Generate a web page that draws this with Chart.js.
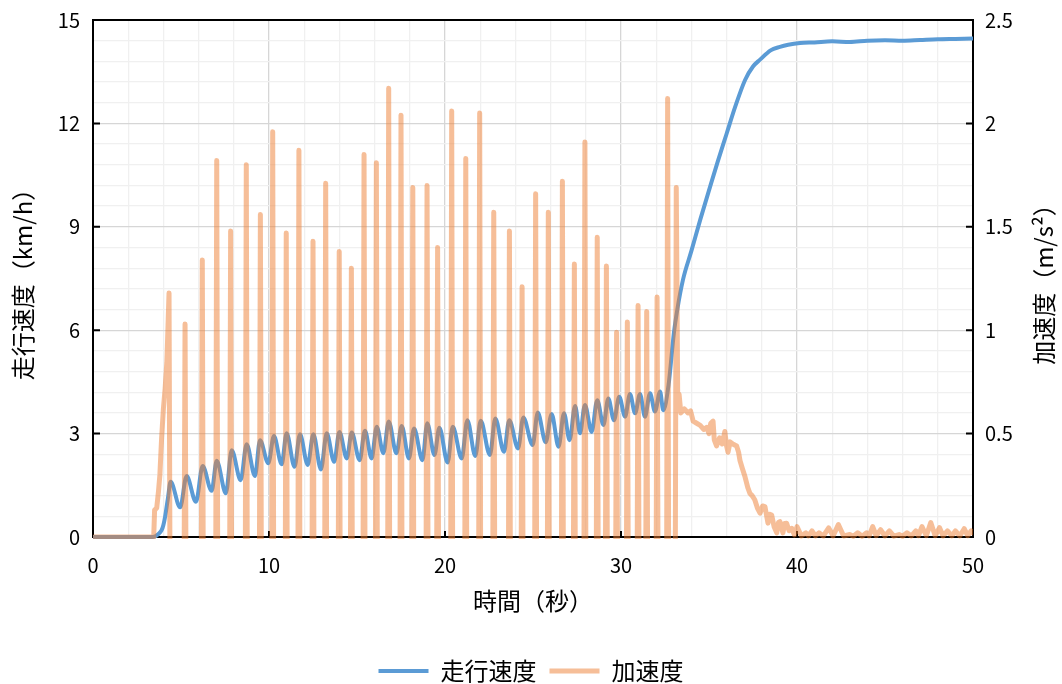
<!DOCTYPE html>
<html>
<head>
<meta charset="utf-8">
<script src="https://cdn.jsdelivr.net/npm/chart.js@4.4.1/dist/chart.umd.min.js"></script>
<style>
html,body{margin:0;padding:0;background:#fff;}
#wrap{width:1062px;height:684px;position:relative;}
</style>
</head>
<body>
<div id="wrap"><canvas id="c" width="1062" height="684"></canvas></div>
<script>
// ---- data (time in s) ----
const seriesNames = ['走行速度', '加速度'];
const xTitle = '時間（秒）';
const yTitle = '走行速度（km/h）';
const y2Title = '加速度（m/s²）';

// speed [time, km/h]
const speedSeries = [
  [0,0],[3.4,0],[3.7,0.08],[3.9,0.2],[4.0,0.35],[4.1,0.6],[4.25,1.1],
  [4.41,1.60],[4.95,0.86],[5.32,1.77],[5.85,1.02],[6.23,2.06],[6.74,1.34],
  [7.03,2.21],[7.55,1.27],[7.88,2.52],[8.39,1.65],[8.73,2.69],[9.20,1.77],
  [9.49,2.81],[9.96,2.14],[10.28,2.93],[10.72,2.11],[11.00,3.01],[11.45,2.04],
  [11.76,2.98],[12.20,2.09],[12.52,2.98],[12.95,1.96],[13.28,3.01],[13.70,2.18],
  [14.00,3.05],[14.42,2.28],[14.70,3.03],[15.15,2.23],[15.45,3.08],[15.83,2.28],
  [16.12,3.20],[16.50,2.43],[16.80,3.35],[17.24,2.43],[17.54,3.22],[17.95,2.28],
  [18.24,3.15],[18.72,2.23],[18.99,3.30],[19.40,2.38],[19.68,3.17],[20.15,2.16],
  [20.44,3.20],[20.95,2.28],[21.27,3.39],[21.72,2.35],[22.03,3.37],[22.55,2.38],
  [22.86,3.44],[23.35,2.47],[23.65,3.39],[24.15,2.57],[24.45,3.47],[24.98,2.67],
  [25.27,3.61],[25.72,2.75],[26.06,3.57],[26.45,2.62],[26.76,3.59],[27.08,2.81],
  [27.39,3.80],[27.67,3.01],[27.95,3.83],[28.33,3.05],[28.65,3.97],[29.00,3.25],
  [29.28,4.02],[29.60,3.39],[29.90,4.07],[30.23,3.49],[30.51,4.15],[30.80,3.59],
  [31.08,4.15],[31.36,3.49],[31.65,4.17],[31.93,3.64],[32.22,4.22],[32.40,3.68],
  [32.70,4.4],[33.00,5.9],[33.20,6.6],[33.52,7.46],[34.00,8.3],[34.50,9.2],
  [35.06,10.16],[35.50,10.9],[36.00,11.7],[36.50,12.5],[37.05,13.26],[37.50,13.65],
  [37.90,13.85],[38.50,14.12],[39.03,14.22],[39.50,14.28],[40.17,14.33],[41.0,14.35],
  [42.0,14.38],[43.0,14.36],[44.0,14.40],[45.0,14.41],[46.0,14.40],[47.0,14.42],
  [48.0,14.44],[49.0,14.45],[50.0,14.46]
];

// acceleration [time, m/s^2]  (values below 0 fall outside the plot)
const accelSeries = [
  [0,0],[3.45,0],[3.5,0.13],[3.62,0.14],[3.72,0.22],[3.8,0.3],[3.9,0.48],[4.0,0.62],
  [4.1,0.72],[4.2,0.85],[4.32,1.18],[4.38,-0.3],
  [5.17,-0.3],[5.23,1.03],[5.29,-0.3],
  [6.15,-0.3],[6.21,1.34],[6.27,-0.3],
  [6.97,-0.3],[7.03,1.82],[7.09,-0.3],
  [7.76,-0.3],[7.82,1.48],[7.88,-0.3],
  [8.65,-0.3],[8.71,1.80],[8.77,-0.3],
  [9.45,-0.3],[9.51,1.56],[9.57,-0.3],
  [10.15,-0.3],[10.21,1.96],[10.27,-0.3],
  [10.92,-0.3],[10.98,1.47],[11.04,-0.3],
  [11.64,-0.3],[11.70,1.87],[11.76,-0.3],
  [12.44,-0.3],[12.50,1.43],[12.56,-0.3],
  [13.16,-0.3],[13.22,1.71],[13.28,-0.3],
  [13.93,-0.3],[13.99,1.38],[14.05,-0.3],
  [14.62,-0.3],[14.68,1.30],[14.74,-0.3],
  [15.34,-0.3],[15.40,1.85],[15.46,-0.3],
  [16.04,-0.3],[16.10,1.81],[16.16,-0.3],
  [16.74,-0.3],[16.80,2.17],[16.86,-0.3],
  [17.44,-0.3],[17.50,2.04],[17.56,-0.3],
  [18.11,-0.3],[18.17,1.69],[18.23,-0.3],
  [18.92,-0.3],[18.98,1.70],[19.04,-0.3],
  [19.52,-0.3],[19.58,1.40],[19.64,-0.3],
  [20.32,-0.3],[20.38,2.06],[20.44,-0.3],
  [21.12,-0.3],[21.18,1.83],[21.24,-0.3],
  [21.91,-0.3],[21.97,2.05],[22.03,-0.3],
  [22.71,-0.3],[22.77,1.57],[22.83,-0.3],
  [23.60,-0.3],[23.66,1.48],[23.72,-0.3],
  [24.32,-0.3],[24.38,1.21],[24.44,-0.3],
  [25.09,-0.3],[25.15,1.66],[25.21,-0.3],
  [25.81,-0.3],[25.87,1.57],[25.93,-0.3],
  [26.61,-0.3],[26.67,1.72],[26.73,-0.3],
  [27.29,-0.3],[27.35,1.32],[27.41,-0.3],
  [27.89,-0.3],[27.95,1.91],[28.01,-0.3],
  [28.59,-0.3],[28.65,1.45],[28.71,-0.3],
  [29.11,-0.3],[29.17,1.31],[29.23,-0.3],
  [29.69,-0.3],[29.75,0.99],[29.81,-0.3],
  [30.30,-0.3],[30.36,1.04],[30.42,-0.3],
  [30.91,-0.3],[30.97,1.12],[31.03,-0.3],
  [31.40,-0.3],[31.46,1.09],[31.52,-0.3],
  [31.99,-0.3],[32.05,1.16],[32.11,-0.3],
  [32.59,-0.3],[32.65,2.12],[32.71,-0.3],
  [33.08,-0.3],[33.14,1.69],[33.22,0.69],
  [33.30,0.69],[33.40,0.60],[33.6,0.62],[33.8,0.60],[33.95,0.61],[34.1,0.56],
  [34.3,0.55],[34.5,0.54],[34.7,0.52],[34.87,0.53],[35.0,0.50],[35.1,0.55],
  [35.23,0.56],[35.3,0.47],[35.43,0.44],[35.6,0.48],[35.75,0.45],[35.9,0.51],
  [36.0,0.44],[36.08,0.41],[36.2,0.46],[36.35,0.45],[36.57,0.44],[36.68,0.41],
  [36.76,0.37],[36.9,0.33],[37.05,0.29],[37.2,0.24],[37.33,0.21],[37.45,0.20],
  [37.6,0.18],[37.75,0.14],[37.9,0.115],[38.05,0.15],[38.18,0.147],[38.35,0.067],
  [38.45,0.11],[38.56,0.106],[38.7,0.05],[38.85,0.02],[38.95,0.07],[39.03,0.074],
  [39.2,0.02],[39.3,0.065],[39.41,0.066],[39.55,0.03],[39.7,0.042],[39.85,0.01],
  [40.0,0.05],[40.25,0.005],[40.5,0.02],[40.65,0.005],[40.85,0.03],[41.05,0.005],
  [41.25,0.02],[41.5,0.005],[41.8,0.044],[42.05,0.005],[42.35,0.06],[42.65,0.005],
  [43.0,0.012],[43.2,0.004],[43.45,0.02],[43.7,0.004],[43.95,0.02],[44.1,0.005],
  [44.3,0.05],[44.5,0.006],[44.75,0.035],[45.0,0.005],[45.25,0.03],[45.5,0.004],
  [45.8,0.012],[46.0,0.004],[46.25,0.02],[46.5,0.005],[46.75,0.03],[46.9,0.006],
  [47.1,0.05],[47.35,0.006],[47.6,0.07],[47.85,0.006],[48.1,0.045],[48.3,0.005],
  [48.55,0.03],[48.8,0.005],[49.0,0.03],[49.25,0.005],[49.5,0.04],[49.7,0.006],
  [49.9,0.03],[50.0,0.02]
];

// axis ticks
const xMax = 50, xMinorStep = 2, xMajorStep = 10;
const yMax = 15, yMinorStep = 0.6, yMajorStep = 3;
const y2Max = 2.5, y2Step = 0.5;

const FONT = "'Noto Sans CJK JP','Noto Sans',sans-serif";
const TITLE_SIZE = 24, TICK_SIZE = 20;
const isMult = (v, m) => Math.abs(v / m - Math.round(v / m)) < 1e-6;

const framePlugin = {
  id: 'frame',
  beforeDatasetsDraw(chart) {
    const {ctx, chartArea: a, scales} = chart;
    ctx.save();
    ctx.strokeStyle = '#000';
    ctx.lineWidth = 2;
    ctx.strokeRect(a.left, a.top, a.right - a.left, a.bottom - a.top);
    ctx.beginPath();
    for (let v = xMajorStep; v < xMax; v += xMajorStep) {
      const x = scales.x.getPixelForValue(v);
      ctx.moveTo(x, a.bottom); ctx.lineTo(x, a.bottom - 6);
    }
    for (let v = yMajorStep; v < yMax; v += yMajorStep) {
      const y = scales.y.getPixelForValue(v);
      ctx.moveTo(a.left, y); ctx.lineTo(a.left + 7, y);
    }
    for (let v = y2Step; v < y2Max - 1e-9; v += y2Step) {
      const y = scales.y1.getPixelForValue(v);
      ctx.moveTo(a.right, y); ctx.lineTo(a.right - 7, y);
    }
    ctx.stroke();
    ctx.restore();
  },
  afterDraw(chart) {
    const {ctx, chartArea: a} = chart;
    ctx.save();
    ctx.fillStyle = '#000';
    ctx.font = TITLE_SIZE + 'px ' + FONT;
    ctx.textAlign = 'center';
    ctx.textBaseline = 'middle';
    ctx.translate(1044, (a.top + a.bottom) / 2);
    ctx.rotate(-Math.PI / 2);
    ctx.fillText(y2Title, 0, 0);
    ctx.restore();
  }
};

new Chart(document.getElementById('c'), {
  type: 'line',
  data: {
    datasets: [
      {
        label: seriesNames[0],
        data: speedSeries.map(p => ({x: p[0], y: p[1]})),
        yAxisID: 'y',
        borderColor: '#5B9BD5',
        backgroundColor: '#5B9BD5',
        borderWidth: 4,
        pointRadius: 0,
        cubicInterpolationMode: 'monotone',
        borderJoinStyle: 'round',
        borderCapStyle: 'round',
        clip: {left: 0, top: 0, right: 0, bottom: 2},
        order: 2
      },
      {
        label: seriesNames[1],
        data: accelSeries.map(p => ({x: p[0], y: p[1]})),
        yAxisID: 'y1',
        borderColor: 'rgba(237,125,49,0.5)',
        backgroundColor: 'rgba(237,125,49,0.5)',
        borderWidth: 5,
        pointRadius: 0,
        tension: 0,
        borderJoinStyle: 'round',
        borderCapStyle: 'round',
        clip: {left: 0, top: 0, right: 0, bottom: 2},
        order: 1
      }
    ]
  },
  options: {
    responsive: false,
    animation: false,
    layout: {padding: {top: 20, left: 0, right: 0, bottom: 0}},
    plugins: {
      tooltip: {enabled: false},
      legend: {
        position: 'bottom',
        maxHeight: 38,
        labels: {
          usePointStyle: true,
          pointStyle: 'line',
          pointStyleWidth: 50,
          padding: 13,
          color: '#000',
          font: {family: FONT, size: TITLE_SIZE},
          sort: (a, b) => a.datasetIndex - b.datasetIndex
        }
      }
    },
    scales: {
      x: {
        type: 'linear',
        min: 0, max: xMax,
        afterFit: s => { s.height = 109; },
        border: {display: false},
        grid: {
          drawTicks: false,
          lineWidth: 1.3,
          color: ctx => isMult(ctx.tick.value, xMajorStep) ? '#d6d6d6' : '#f0f0f0'
        },
        ticks: {
          stepSize: xMinorStep,
          autoSkip: false,
          maxRotation: 0,
          padding: 16,
          color: '#000',
          font: {family: FONT, size: TICK_SIZE},
          callback: v => isMult(v, xMajorStep) ? String(v) : ''
        },
        title: {
          display: true, text: xTitle, color: '#000',
          font: {family: FONT, size: TITLE_SIZE},
          padding: {top: 0, bottom: 31}
        }
      },
      y: {
        type: 'linear', position: 'left',
        min: 0, max: yMax,
        afterFit: s => { s.width = 93; s.paddingTop = 4; s.paddingBottom = 4; },
        border: {display: false},
        grid: {
          drawTicks: false,
          lineWidth: 1.3,
          color: ctx => isMult(ctx.tick.value, yMajorStep) ? '#d6d6d6' : '#f0f0f0'
        },
        ticks: {
          stepSize: yMinorStep,
          autoSkip: false,
          padding: 13,
          color: '#000',
          font: {family: FONT, size: TICK_SIZE},
          callback: v => isMult(v, yMajorStep) ? String(Math.round(v)) : ''
        },
        title: {
          display: true, text: yTitle, color: '#000',
          font: {family: FONT, size: TITLE_SIZE},
          padding: {top: 8, bottom: 0}
        }
      },
      y1: {
        type: 'linear', position: 'right',
        min: 0, max: y2Max,
        afterFit: s => { s.width = 89; s.paddingTop = 4; s.paddingBottom = 4; },
        border: {display: false},
        grid: {drawOnChartArea: false, drawTicks: false},
        ticks: {
          stepSize: y2Step,
          autoSkip: false,
          padding: 12,
          color: '#000',
          font: {family: FONT, size: TICK_SIZE},
          callback: v => String(Math.round(v * 10) / 10)
        }
      }
    }
  },
  plugins: [framePlugin]
});
</script>
</body>
</html>
